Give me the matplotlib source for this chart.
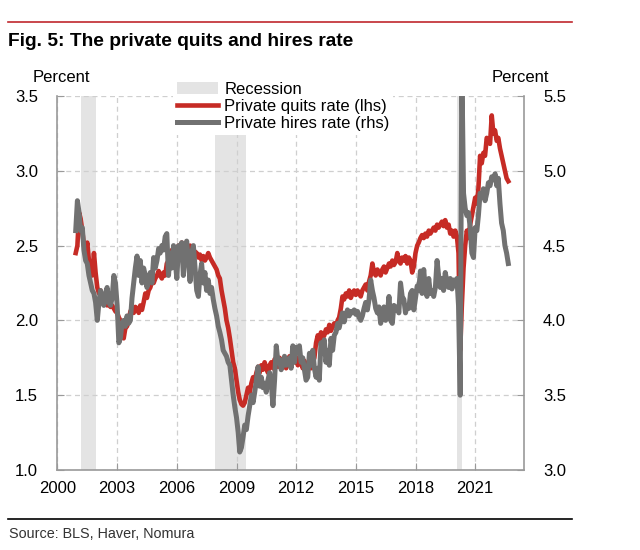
import matplotlib
matplotlib.use('Agg')
import matplotlib.pyplot as plt
import matplotlib.dates as mdates
from matplotlib.lines import Line2D
from matplotlib.patches import Patch
import pandas as pd

plt.rcParams['font.family'] = ['Liberation Sans', 'DejaVu Sans']

# monthly, Dec 2000 .. Sep 2022
quits = [2.45,
    2.50, 2.72, 2.68, 2.60, 2.50, 2.45, 2.52, 2.40, 2.38, 2.30, 2.45, 2.32,  # 2001
    2.22, 2.18, 2.20, 2.15, 2.14, 2.17, 2.10, 2.12, 2.09, 2.10, 2.08, 2.06,  # 2002
    2.05, 2.02, 2.00, 1.92, 1.88, 1.95, 1.96, 2.00, 2.06, 2.08, 2.05, 2.09,  # 2003
    2.08, 2.05, 2.10, 2.07, 2.12, 2.18, 2.15, 2.20, 2.22, 2.26, 2.25, 2.28,  # 2004
    2.30, 2.33, 2.30, 2.28, 2.32, 2.30, 2.38, 2.40, 2.44, 2.47, 2.45, 2.48,  # 2005
    2.45, 2.50, 2.47, 2.52, 2.46, 2.50, 2.48, 2.45, 2.50, 2.47, 2.44, 2.46,  # 2006
    2.45, 2.42, 2.44, 2.40, 2.43, 2.40, 2.42, 2.45, 2.42, 2.40, 2.38, 2.36,  # 2007
    2.34, 2.30, 2.28, 2.20, 2.14, 2.08, 2.00, 1.95, 1.88, 1.80, 1.72, 1.68,  # 2008
    1.60, 1.52, 1.47, 1.44, 1.43, 1.45, 1.50, 1.55, 1.52, 1.58, 1.62, 1.60,  # 2009
    1.65, 1.69, 1.65, 1.70, 1.67, 1.72, 1.68, 1.65, 1.70, 1.72, 1.68, 1.74,  # 2010
    1.72, 1.69, 1.75, 1.70, 1.74, 1.72, 1.68, 1.73, 1.76, 1.70, 1.74, 1.72,  # 2011
    1.74, 1.70, 1.76, 1.72, 1.68, 1.73, 1.70, 1.67, 1.70, 1.68, 1.72, 1.75,  # 2012
    1.85, 1.90, 1.86, 1.92, 1.88, 1.90, 1.94, 1.92, 1.97, 1.93, 1.96, 1.98,  # 2013
    1.96, 2.00, 2.02, 2.08, 2.16, 2.14, 2.18, 2.16, 2.20, 2.15, 2.18, 2.20,  # 2014
    2.17, 2.20, 2.18, 2.16, 2.20, 2.22, 2.24, 2.20, 2.26, 2.30, 2.38, 2.32,  # 2015
    2.30, 2.34, 2.32, 2.30, 2.34, 2.36, 2.32, 2.35, 2.38, 2.36, 2.40, 2.37,  # 2016
    2.39, 2.45, 2.40, 2.38, 2.42, 2.40, 2.43, 2.38, 2.42, 2.40, 2.32, 2.36,  # 2017
    2.45, 2.50, 2.52, 2.55, 2.57, 2.55, 2.58, 2.56, 2.60, 2.58, 2.60, 2.62,  # 2018
    2.60, 2.64, 2.62, 2.64, 2.66, 2.63, 2.67, 2.62, 2.64, 2.58, 2.60, 2.56,  # 2019
    2.60, 2.56, 2.45, 1.80, 2.10, 2.35, 2.50, 2.60, 2.55, 2.64, 2.70, 2.76,  # 2020
    2.82, 2.78, 2.88, 3.10, 3.05, 3.12, 3.10, 3.22, 3.20, 3.18, 3.37, 3.25,  # 2021
    3.27, 3.20, 3.22, 3.15, 3.10, 3.05, 3.00, 2.95, 2.93]                    # 2022

hires = [4.60,
    4.80, 4.72, 4.60, 4.62, 4.47, 4.40, 4.38, 4.30, 4.25, 4.20, 4.18, 4.12,  # 2001
    4.00, 4.12, 4.20, 4.15, 4.10, 4.18, 4.22, 4.12, 4.10, 4.15, 4.30, 4.25,  # 2002
    4.10, 3.85, 3.88, 3.98, 4.00, 3.96, 4.03, 3.98, 4.00, 4.15, 4.25, 4.35,  # 2003
    4.43, 4.30, 4.40, 4.25, 4.35, 4.30, 4.22, 4.28, 4.32, 4.25, 4.42, 4.35,  # 2004
    4.40, 4.48, 4.45, 4.50, 4.47, 4.56, 4.58, 4.30, 4.45, 4.35, 4.50, 4.40,  # 2005
    4.28, 4.50, 4.42, 4.52, 4.30, 4.48, 4.53, 4.40, 4.26, 4.45, 4.50, 4.35,  # 2006
    4.20, 4.16, 4.30, 4.38, 4.25, 4.32, 4.20, 4.27, 4.18, 4.22, 4.14, 4.08,  # 2007
    4.03, 3.96, 3.92, 3.87, 3.80, 3.78, 3.76, 3.72, 3.70, 3.60, 3.50, 3.42,  # 2008
    3.35, 3.25, 3.12, 3.15, 3.22, 3.30, 3.27, 3.36, 3.43, 3.50, 3.45, 3.52,  # 2009
    3.60, 3.69, 3.56, 3.62, 3.55, 3.58, 3.52, 3.60, 3.65, 3.58, 3.43, 3.60,  # 2010
    3.83, 3.72, 3.74, 3.67, 3.70, 3.76, 3.70, 3.72, 3.75, 3.68, 3.83, 3.72,  # 2011
    3.82, 3.80, 3.83, 3.72, 3.75, 3.67, 3.60, 3.62, 3.78, 3.70, 3.80, 3.68,  # 2012
    3.62, 3.68, 3.60, 3.85, 3.78, 3.87, 3.72, 3.80, 3.70, 3.88, 3.80, 3.90,  # 2013
    3.92, 3.98, 3.95, 4.00, 4.05, 3.99, 4.04, 4.07, 4.03, 4.06, 4.05, 4.07,  # 2014
    4.04, 4.06, 4.02, 4.00, 4.03, 4.08, 4.12, 4.07, 4.14, 4.27, 4.20, 4.15,  # 2015
    4.08, 4.05, 4.09, 3.98, 4.04, 4.09, 4.00, 4.04, 4.16, 4.00, 3.98, 4.10,  # 2016
    4.07, 4.09, 4.05, 4.25, 4.16, 4.14, 4.05, 4.10, 4.08, 4.18, 4.20, 4.07,  # 2017
    4.15, 4.23, 4.20, 4.33, 4.18, 4.34, 4.20, 4.16, 4.28, 4.18, 4.20, 4.16,  # 2018
    4.22, 4.40, 4.30, 4.22, 4.28, 4.20, 4.32, 4.26, 4.22, 4.28, 4.21, 4.27,  # 2019
    4.24, 4.28, 4.10, 3.50, 5.70, 4.85, 4.75, 4.70, 4.72, 4.62, 4.45, 4.42,  # 2020
    4.62, 4.60, 4.70, 4.85, 4.82, 4.88, 4.80, 4.85, 4.92, 4.90, 4.96, 4.94,  # 2021
    4.98, 4.90, 4.95, 4.78, 4.65, 4.60, 4.50, 4.45, 4.38]                    # 2022

recessions = [('2001-03-01', '2001-11-30'),
              ('2007-12-01', '2009-06-30'),
              ('2020-02-01', '2020-04-30')]

tick_years = ['2000', '2003', '2006', '2009', '2012', '2015', '2018', '2021']

months = pd.date_range('2000-12-01', periods=len(quits), freq='MS')

red = '#C62B25'
grey = '#717171'
spine_c = '#9a9a9a'

fig = plt.figure(figsize=(6.4, 5.5), dpi=100)
ax1 = fig.add_axes([0.0898, 0.1455, 0.7284, 0.68])
ax2 = ax1.twinx()

for start, end in recessions:
    ax1.axvspan(pd.Timestamp(start), pd.Timestamp(end), color='#e4e4e4', lw=0, zorder=0)

ax1.plot(months, quits, color=red, lw=3.3, zorder=3)
ax2.plot(months, hires, color=grey, lw=3.6, zorder=3)

ax1.set_xlim(pd.Timestamp('2000-01-01'), pd.Timestamp('2023-06-10'))
ax1.set_ylim(1.0, 3.5)
ax2.set_ylim(3.0, 5.5)
ax1.set_yticks([1.0, 1.5, 2.0, 2.5, 3.0, 3.5])
ax2.set_yticks([3.0, 3.5, 4.0, 4.5, 5.0, 5.5])
ax1.yaxis.set_major_formatter(plt.FormatStrFormatter('%.1f'))
ax2.yaxis.set_major_formatter(plt.FormatStrFormatter('%.1f'))
ax1.set_xticks([pd.Timestamp(y + '-01-01') for y in tick_years])
ax1.xaxis.set_major_formatter(mdates.DateFormatter('%Y'))

ax1.grid(True, ls=(0, (4, 3)), color='#cfcfcf', lw=0.9, zorder=1)
ax1.set_axisbelow(True)

for a in (ax1, ax2):
    a.spines['top'].set_visible(False)
    for s in a.spines.values():
        s.set_color(spine_c)
        s.set_linewidth(1.2)
ax1.spines['right'].set_visible(False)
ax2.spines['left'].set_visible(False)
ax2.spines['bottom'].set_visible(False)

ax1.tick_params(axis='y', direction='in', length=5, color=spine_c, pad=14, labelsize=12)
ax2.tick_params(axis='y', direction='in', length=5, color=spine_c, pad=14, labelsize=12)
ax1.tick_params(axis='x', direction='in', length=5, color=spine_c, pad=8, labelsize=12)

handles = [Patch(facecolor='#e4e4e4', edgecolor='none'),
           Line2D([], [], color=red, lw=3.3),
           Line2D([], [], color=grey, lw=3.6)]
labels = ['Recession', 'Private quits rate (lhs)', 'Private hires rate (rhs)']
leg = ax2.legend(handles, labels, loc='upper left', bbox_to_anchor=(0.271, 0.857),
                 bbox_transform=fig.transFigure, fontsize=12, frameon=True,
                 facecolor='white', edgecolor='none', framealpha=1, fancybox=False,
                 borderpad=0.2, borderaxespad=0, labelspacing=0.13,
                 handlelength=2.5, handletextpad=0.35)
leg.set_zorder(10)

fig.text(61 / 640, 1 - 77 / 550, 'Percent', ha='center', va='center', fontsize=12)
fig.text(520 / 640, 1 - 77 / 550, 'Percent', ha='center', va='center', fontsize=12)

fig.text(8 / 640, 1 - 41 / 550, 'Fig. 5: The private quits and hires rate',
         ha='left', va='center', fontsize=13.8, fontweight='bold')
fig.add_artist(Line2D([8 / 640, 572 / 640], [1 - 22 / 550] * 2, color='#C0282D', lw=1.2))
fig.add_artist(Line2D([8 / 640, 572 / 640], [1 - 519 / 550] * 2, color='black', lw=1.2))
fig.text(9 / 640, 1 - 534 / 550, 'Source: BLS, Haver, Nomura', ha='left', va='center',
         fontsize=10.4, color='#333333')

fig.savefig('out.png', dpi=100)
